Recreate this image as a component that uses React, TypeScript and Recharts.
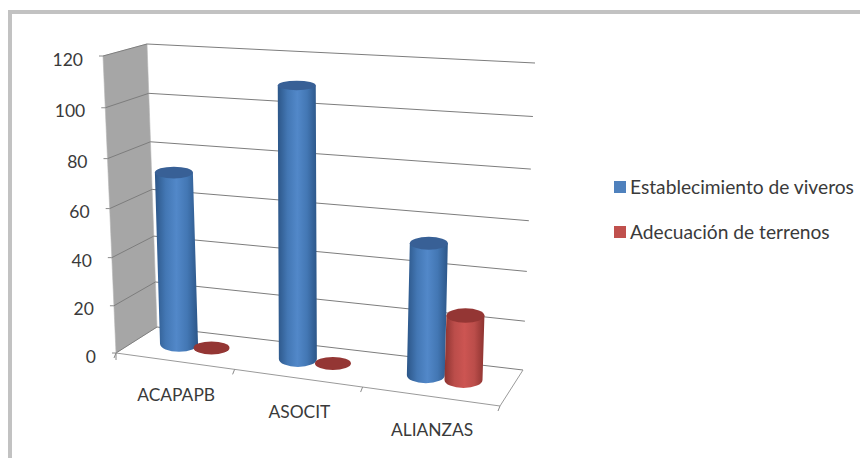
import React from 'react';
import { BarChart, Bar, XAxis, YAxis, CartesianGrid, Legend } from 'recharts';

// Chart values
const categories = ['ACAPAPB', 'ASOCIT', 'ALIANZAS'];
const viveros = [72, 110, 53];
const terrenos = [0, 0, 26];
const valueTicks = [0, 20, 40, 60, 80, 100, 120];
const seriesNames = ['Establecimiento de viveros', 'Adecuación de terrenos'];

const rows = categories.map((name, i) => ({ name, viveros: viveros[i], terrenos: terrenos[i] }));

const WIDTH = 860;
const HEIGHT = 458;
const FONT = 'Lato, "Open Sans", sans-serif';
const TEXT = '#3a3a3a';
const PLOT = { left: 116, top: 56, right: 500, bottom: 353 };

type Pt = [number, number];
const mix = (a: Pt, b: Pt, k: number): Pt => [a[0] + (b[0] - a[0]) * k, a[1] + (b[1] - a[1]) * k];

// Corners of the 3D box: floor and ceiling, front and back.
const FLOOR = { fl: [116, 353] as Pt, fr: [500, 406] as Pt, bl: [157, 327] as Pt, br: [523, 370] as Pt };
const CEIL = { fl: [103, 56] as Pt, fr: [513, 84] as Pt, bl: [147, 44] as Pt, br: [535, 63] as Pt };
const BAR_DEPTH = 0.55;

const plane = (q: typeof FLOOR, u: number, w: number) => mix(mix(q.fl, q.fr, u), mix(q.bl, q.br, u), w);
const foreshortU = (u: number) => u * (0.89 + 0.11 * u);
const foreshortT = (t: number) => t * (0.945 + 0.055 * t);
const project = (u: number, w: number, t: number) => mix(plane(FLOOR, u, w), plane(CEIL, u, w), foreshortT(t));
const plotU = (x: number) => foreshortU((x - PLOT.left) / (PLOT.right - PLOT.left));
const plotT = (y: number) => (PLOT.bottom - y) / (PLOT.bottom - PLOT.top);

const poly = (pts: Pt[]) => pts.map((p) => p.join(',')).join(' ');

// Side wall drawn once, underneath the grid lines.
const WallBackdrop = (props: any) => {
  if (Math.abs(plotT(props.y1)) > 0.001) return <g key={props.key} />;
  return (
    <polygon
      key={props.key}
      points={poly([project(0, 0, 0), project(0, 1, 0), project(0, 1, 1), project(0, 0, 1)])}
      fill="#a6a6a6"
      stroke="#b5b5b5"
      strokeWidth={0.6}
    />
  );
};

// One grid level: along the side wall, then along the back wall.
const LevelLine = (props: any) => {
  const t = plotT(props.y1);
  const a = project(0, 0, t);
  const b = project(0, 1, t);
  const c = project(1, 1, t);
  const isFloor = Math.abs(t) < 0.001;
  const d = project(1, 0, 0);
  return (
    <g key={props.key} fill="none" stroke="#7d7d7d" strokeWidth={1}>
      <polyline points={poly([a, b, c])} />
      {isFloor && <polyline points={poly([a, d, c])} stroke="#9a9a9a" />}
    </g>
  );
};

const ValueTick = (props: any) => {
  const { y, payload } = props;
  const p = project(0, 0, plotT(y));
  return (
    <g>
      <line x1={p[0] - 4} y1={p[1]} x2={p[0]} y2={p[1]} stroke="#8a8a8a" />
      {payload.value === 0 && <line x1={p[0]} y1={p[1]} x2={p[0]} y2={p[1] + 7} stroke="#8a8a8a" />}
      <text
        x={p[0] - 20}
        y={p[1] + 3}
        textAnchor="end"
        dominantBaseline="central"
        fontFamily={FONT}
        fontSize={17.5}
        fill={TEXT}
      >
        {payload.value}
      </text>
    </g>
  );
};

const CategoryTick = (props: any) => {
  const { x, payload, index } = props;
  const band = (PLOT.right - PLOT.left) / categories.length;
  const base = project(plotU(x), 0, 0);
  const mark = (px: number) => {
    const m = project(plotU(px), 0, 0);
    return <line x1={m[0]} y1={m[1]} x2={m[0] - 2} y2={m[1] + 5} stroke="#8a8a8a" />;
  };
  return (
    <g>
      {mark(x + band / 2)}
      {index === 0 && mark(x - band / 2)}
      <text
        x={base[0] + 2}
        y={base[1] + 33}
        textAnchor="middle"
        dominantBaseline="central"
        fontFamily={FONT}
        fontSize={17.4}
        fill={TEXT}
      >
        {payload.value}
      </text>
    </g>
  );
};

const makeCylinder = (id: string, edge: string, mid: string, core: string, cap: string) => (props: any) => {
  const { x, y, width, height } = props;
  const u = plotU(x + width / 2);
  const t = plotT(y);
  const foot = project(u, BAR_DEPTH, 0);
  const head = project(u, BAR_DEPTH, t);
  const rx = width / 2;
  const capRy = 8 - 3.5 * t;
  if (height < 0.5) {
    return <ellipse cx={foot[0]} cy={foot[1]} rx={rx - 1} ry={6.5} fill={cap} />;
  }
  const body = [
    `M${head[0] - rx},${head[1]}`,
    `L${foot[0] - rx},${foot[1]}`,
    `A${rx},8 0 0 0 ${foot[0] + rx},${foot[1]}`,
    `L${head[0] + rx},${head[1]}`,
    'Z',
  ].join(' ');
  return (
    <g>
      <defs>
        <linearGradient id={id} x1="0" y1="0" x2="1" y2="0">
          <stop offset="0" stopColor={edge} />
          <stop offset="0.25" stopColor={mid} />
          <stop offset="0.5" stopColor={core} />
          <stop offset="0.75" stopColor={mid} />
          <stop offset="1" stopColor={edge} />
        </linearGradient>
      </defs>
      <path d={body} fill={`url(#${id})`} />
      <ellipse cx={head[0]} cy={head[1]} rx={rx} ry={capRy} fill={cap} />
    </g>
  );
};

const BlueCylinder = makeCylinder('cyl-blue', '#2c5688', '#4377b4', '#5288c9', '#386096');
const RedCylinder = makeCylinder('cyl-red', '#8d3330', '#bb4d4a', '#cc5552', '#943634');

const LegendBlock = (props: any) => (
  <div style={{ fontFamily: FONT, fontSize: 19.2, color: TEXT }}>
    {(props.payload || []).map((entry: any) => (
      <div key={entry.value} style={{ display: 'flex', alignItems: 'center', height: 45, whiteSpace: 'nowrap' }}>
        <span style={{ width: 12, height: 12, background: entry.color, marginRight: 4, display: 'inline-block' }} />
        {entry.value}
      </div>
    ))}
  </div>
);

export default function App() {
  return (
    <div style={{ position: 'fixed', left: 0, top: 0, width: WIDTH, height: HEIGHT, overflow: 'hidden', background: '#fff' }}>
      <div
        style={{
          position: 'absolute',
          left: 8,
          top: 10,
          width: WIDTH + 40,
          height: HEIGHT + 40,
          border: '4px solid #c2c2c2',
          boxSizing: 'border-box',
        }}
      />
      <div style={{ position: 'absolute', left: 0, top: 0 }}>
        <BarChart
          width={WIDTH}
          height={HEIGHT}
          data={rows}
          barSize={38}
          barGap={-2}
          margin={{ top: PLOT.top, left: PLOT.left - 50, right: WIDTH - PLOT.right, bottom: HEIGHT - PLOT.bottom - 30 }}
        >
          <CartesianGrid horizontal={WallBackdrop} vertical={false} />
          <CartesianGrid horizontal={LevelLine} vertical={false} />
          <XAxis dataKey="name" height={30} interval={0} axisLine={false} tickLine={false} tick={CategoryTick} />
          <YAxis width={50} domain={[0, 120]} ticks={valueTicks} axisLine={false} tickLine={false} tick={ValueTick} />
          <Legend
            layout="vertical"
            align="center"
            verticalAlign="middle"
            content={LegendBlock}
            itemSorter={null}
            wrapperStyle={{ position: 'absolute', left: 614, top: 164, width: 246, height: 90 }}
          />
          <Bar dataKey="viveros" name={seriesNames[0]} fill="#4f81bd" shape={BlueCylinder} isAnimationActive={false} />
          <Bar dataKey="terrenos" name={seriesNames[1]} fill="#c0504d" shape={RedCylinder} isAnimationActive={false} />
        </BarChart>
      </div>
    </div>
  );
}
